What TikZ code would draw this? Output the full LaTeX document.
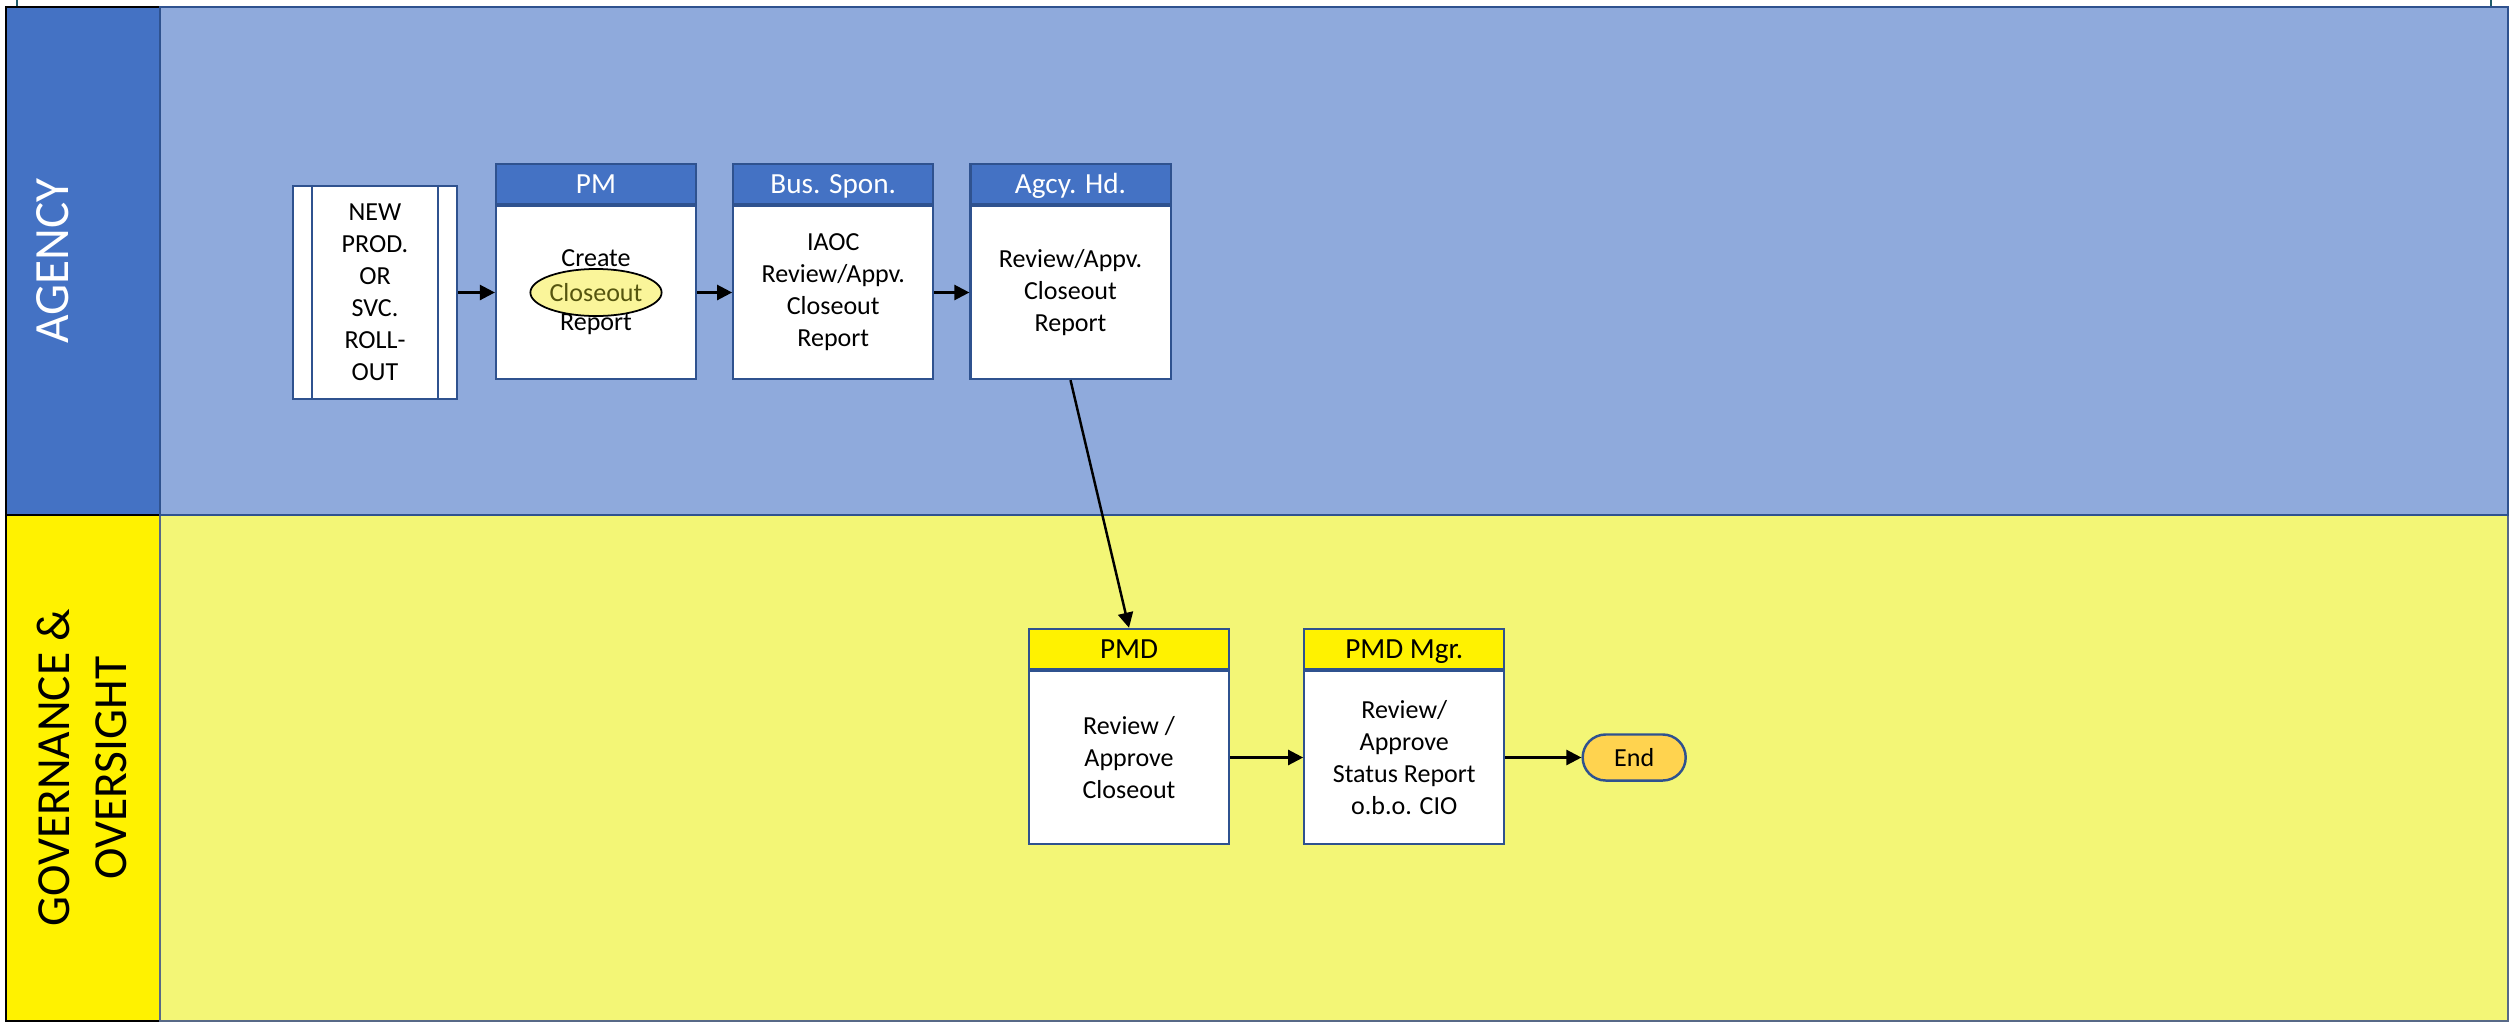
\documentclass[tikz,border=0pt]{standalone}
\usepackage{fontspec}
\setmainfont{Carlito}
\usetikzlibrary{arrows.meta,positioning,shapes.geometric}
\definecolor{lanehd}{HTML}{4472C4}
\definecolor{laneblue}{HTML}{8FAADC}
\definecolor{laneyel}{HTML}{F3F676}
\definecolor{edgeblue}{HTML}{2F528F}
\definecolor{endfill}{HTML}{FFD34F}
\definecolor{ovalfill}{HTML}{FAF59A}
\definecolor{ovaltext}{HTML}{55550F}
\definecolor{tickteal}{HTML}{1F5C6B}
\newcommand{\bodyfont}{\fontsize{7.4}{9.1}\selectfont}

\begin{document}
\begin{tikzpicture}[x=0.01cm,y=-0.01cm,>={Triangle[length=4.3pt,width=4.3pt]},
	task/.style={draw=edgeblue,line width=0.6pt,fill=white,minimum width=2cm,minimum height=1.73cm,align=center,font=\bodyfont},
	hd/.style={draw=edgeblue,line width=0.6pt,fill=lanehd,text=white,minimum width=2cm,minimum height=0.4cm,inner sep=0pt,text height=7pt,text depth=1.3pt,font=\fontsize{8.3}{10}\selectfont},
	yhd/.style={hd,fill=yellow,text=black},
	flow/.style={->,line width=0.7pt}]
	\useasboundingbox (0,0) rectangle (2509,1024);
	\draw[tickteal,line width=0.8pt] (17,0) -- (17,7) (2491,0) -- (2491,7);
	\draw[black,line width=0.7pt,fill=yellow] (6,515) rectangle (160,1021);
	\draw[edgeblue!50!gray,line width=0.6pt,fill=laneyel] (160,515) rectangle (2508,1021);
	\draw[black,line width=0.7pt,fill=lanehd] (6,7) rectangle (160,515);
	\draw[edgeblue,line width=0.8pt,fill=laneblue] (160,7) rectangle (2508,515);
	\node[rotate=90,text=white,font=\fontsize{14}{17}\selectfont] (agencylbl) at (53,261) {AGENCY};
	\node[rotate=90,align=center,font=\fontsize{13.5}{16.2}\selectfont] (govlbl) at (82,768) {GOVERNANCE \&\\OVERSIGHT};

	\node[draw=edgeblue,line width=0.6pt,fill=white,minimum width=1.64cm,minimum height=2.13cm,align=center,font=\bodyfont] (roll) at (375,292.5) {NEW\\PROD.\\OR\\SVC.\\ROLL-\\OUT};
	\draw[edgeblue,line width=0.6pt] ([xshift=0.2cm]roll.north west) -- ([xshift=0.2cm]roll.south west)
		([xshift=-0.2cm]roll.north east) -- ([xshift=-0.2cm]roll.south east);
	\node[task] (pm) at (596,292.5) {Create\\\phantom{Closeout}\\Report};
	\node[hd] (pmhd) [above=0pt of pm] {PM};
	\node[ellipse,draw=black,line width=0.5pt,fill=ovalfill,text=ovaltext,minimum width=1.25cm,minimum height=0.47cm,inner sep=0pt,font=\bodyfont] (closeout) at (pm) {Closeout};
	\node[task] (bus) [right=0.35cm of pm] {IAOC\\Review/Appv.\\Closeout\\Report};
	\node[hd] (bushd) [above=0pt of bus] {Bus. Spon.};
	\node[task] (agcy) [right=0.35cm of bus] {Review/Appv.\\Closeout\\Report};
	\node[hd] (agcyhd) [above=0pt of agcy] {Agcy. Hd.};

	\node[task] (pmd) at (1129,757.5) {Review /\\Approve\\Closeout};
	\node[yhd] (pmdhd) [above=0pt of pmd] {PMD};
	\node[task] (mgr) [right=0.73cm of pmd] {Review/\\Approve\\Status Report\\o.b.o. CIO};
	\node[yhd] (mgrhd) [above=0pt of mgr] {PMD Mgr.};
	\node[draw=edgeblue,line width=0.7pt,fill=endfill,rounded corners=0.23cm,minimum width=1.03cm,minimum height=0.46cm,font=\bodyfont] (done) [right=0.76cm of mgr] {End};

	\path[flow] (roll) edge (pm)
	(pm) edge (bus)
	(bus) edge (agcy)
	(agcy.south) edge (pmdhd.north)
	(pmd) edge (mgr)
	(mgr) edge (done);
\end{tikzpicture}
\end{document}
